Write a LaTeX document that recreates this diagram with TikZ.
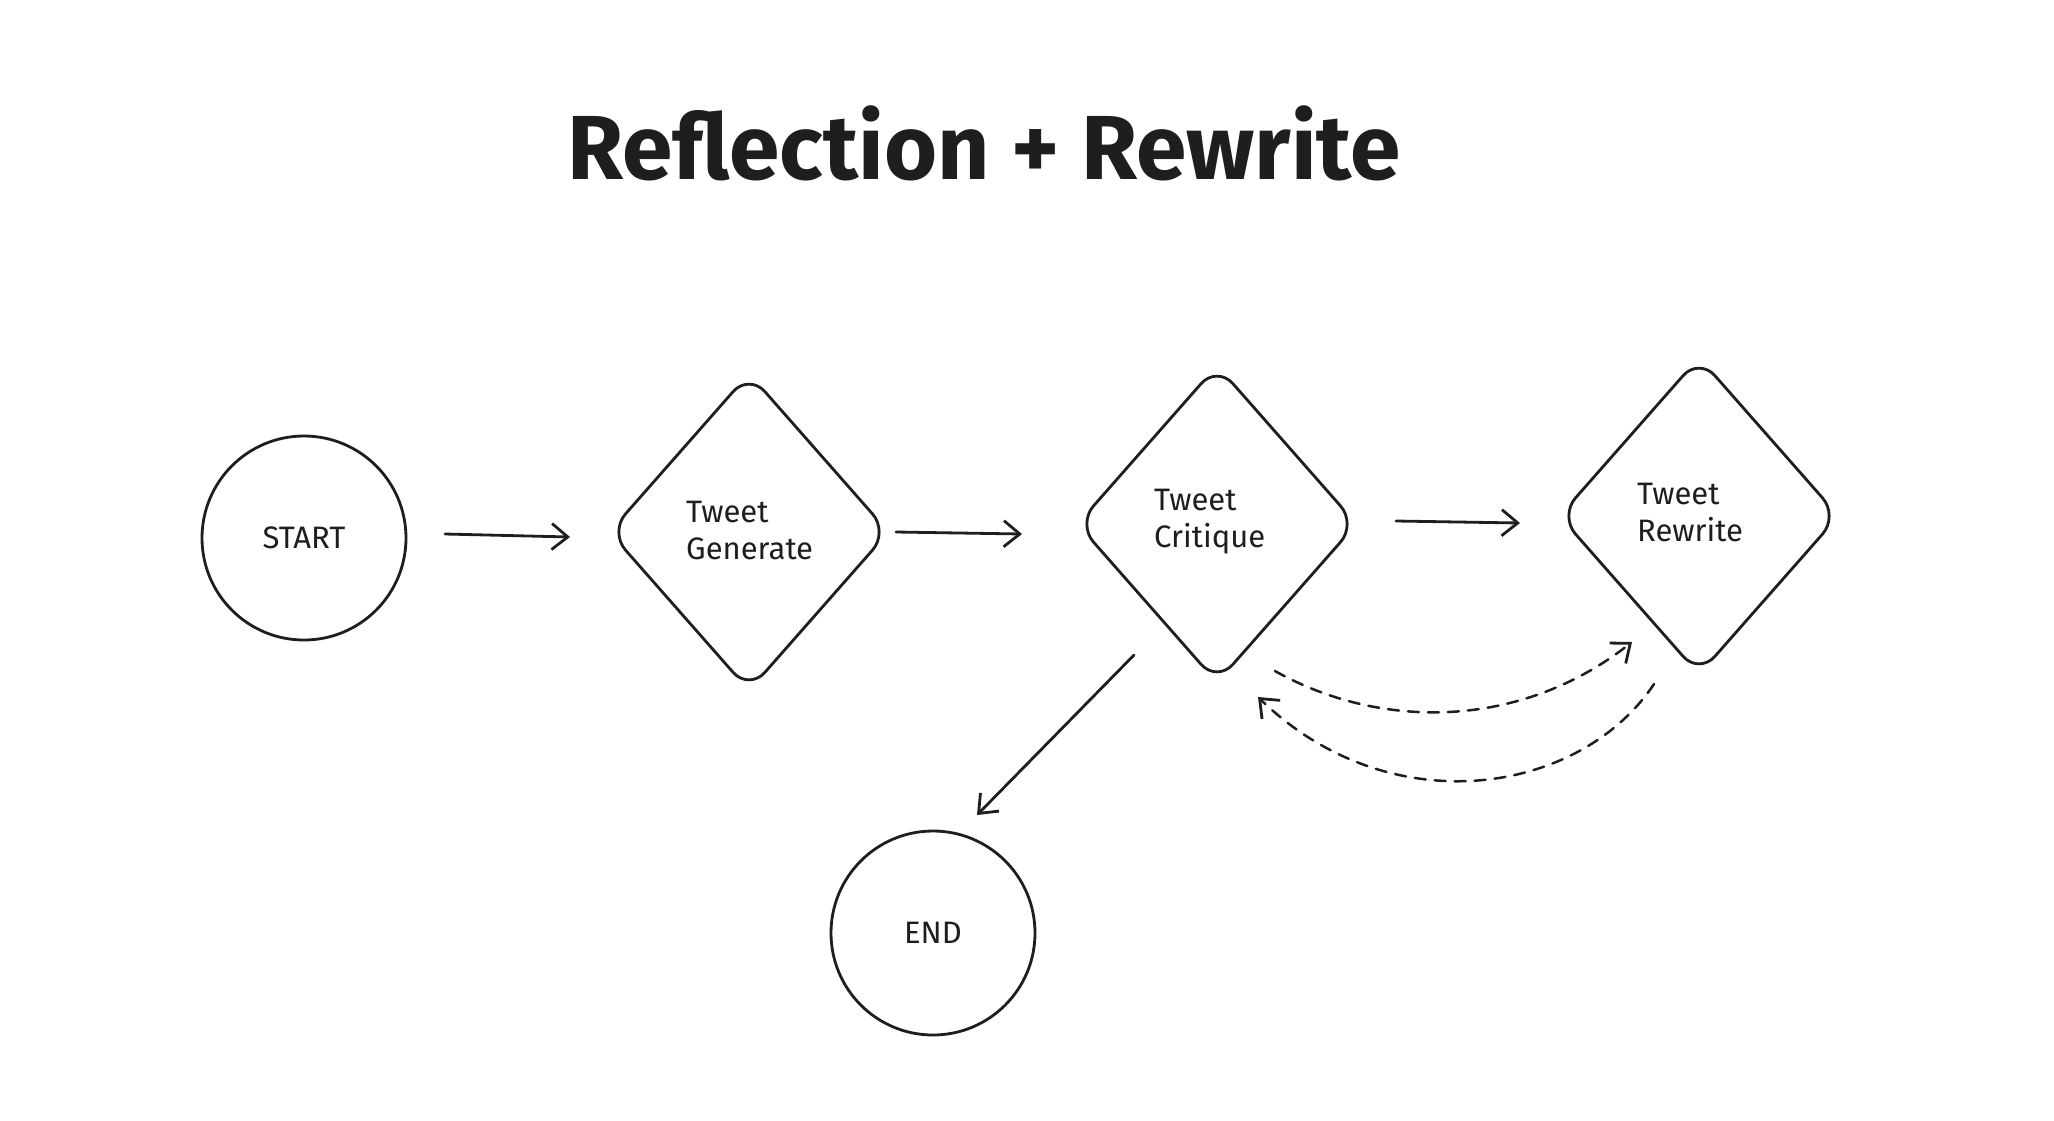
\documentclass[tikz,border=0pt]{standalone}
\usepackage{fontspec}
\setmainfont{Fira Sans}
\usetikzlibrary{shapes.geometric,arrows.meta,calc}
\definecolor{ink}{HTML}{1E1E1E}
\begin{document}
\begin{tikzpicture}[x=1pt,y=-1pt,
  ink line/.style={draw=ink,line width=2.8pt,line cap=round,line join=round},
  circnode/.style={ink line,circle,minimum size=204pt,inner sep=0pt,font=\fontsize{31}{36}\selectfont,text=ink},
  dia/.style={ink line,diamond,minimum width=280pt,minimum height=318pt,inner sep=0pt,rounded corners=24pt},
  lbl/.style={align=left,inner sep=0pt,font=\fontsize{31}{37}\selectfont,text=ink},
  conn/.style={ink line,-{Straight Barb[length=16pt,width=26pt,line width=2.8pt]}},
  dconn/.style={conn,line width=2.5pt,dash pattern=on 11pt off 9pt}]
\useasboundingbox (0,0) rectangle (2054,1120);
\fill[white] (0,0) rectangle (2054,1120);
% title
\node[text=ink,font=\fontsize{91}{100}\selectfont\bfseries] (title) at (984,143) {Reflection + Rewrite};
% nodes
\node[circnode] (start) at (304,538) {START};
\node[dia] (gen) at (749,532) {};
\node[dia] (crit) at (1217,524) {};
\node[dia] (rew) at (1699,516) {};
\node[circnode] (endn) at (933,933) {END};
\node[lbl,anchor=west] (tgen) at (686,530) {Tweet\\Generate};
\node[lbl,anchor=west] (tcrit) at (1154,522) {Tweet\\Critique};
\node[lbl,anchor=west] (trew) at (1637,512) {Tweet\\Rewrite};
% connectors
\draw[conn] ($(start)+(141,-4)$) -- ($(gen)+(-179,5)$);
\draw[conn] ($(gen)+(147,0)$) -- ($(crit)+(-195,10)$);
\draw[conn] ($(crit)+(179,-3)$) -- ($(rew)+(-179,7)$);
\draw[conn] ($(crit)+(-83,131)$) -- ($(endn)+(44,-118)$);
\draw[dconn] ($(crit)+(58,147)$) .. controls ($(crit)+(163,206)$) and ($(rew)+(-179,214)$) .. ($(rew)+(-67,126)$);
\draw[dconn] ($(rew)+(-45,168)$) .. controls ($(rew)+(-119,279)$) and ($(crit)+(173,301)$) .. ($(crit)+(41,173)$);
\end{tikzpicture}
\end{document}
